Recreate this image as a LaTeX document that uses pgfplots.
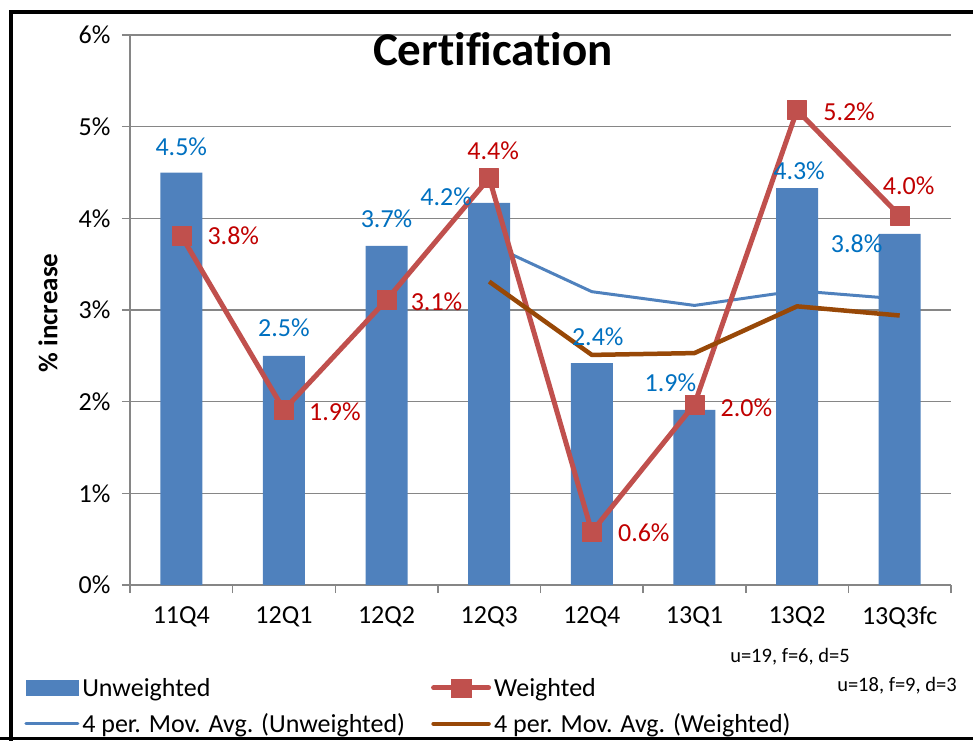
\documentclass[border=0pt]{standalone}
\usepackage{pgfplots}
\pgfplotsset{compat=1.18}
\usepackage{pgfplotstable}
\usepackage{fontspec}
\setmainfont{Carlito}[Ligatures=NoCommon]

\definecolor{barblue}{HTML}{4F81BD}
\definecolor{wred}{HTML}{C0504D}
\definecolor{lblblue}{HTML}{0070C0}
\definecolor{lblred}{HTML}{C00000}
\definecolor{mabrown}{HTML}{984807}
\definecolor{gridgray}{HTML}{868686}

% quarterly increase: unweighted (u) and weighted (w), with label offsets
\pgfplotstableread{
x u    udx udy w    wdx wdy
0 4.50   0  26 3.81  52   0
1 2.50   0  28 1.91  51  -2
2 3.70   0  27 3.11  50  -2
3 4.17 -43   6 4.44   4  27
4 2.42   6  26 0.58  52  -1
5 1.91 -24  27 1.97  52  -3
6 4.33   2  17 5.18  52  -2
7 3.83 -43 -10 4.03   9  30
}\quarters

% 4-period moving averages
\pgfplotstableread{
x mu   mw
3 3.72 3.31
4 3.20 2.51
5 3.05 2.53
6 3.21 3.04
7 3.12 2.94
}\movavg

\newcommand{\labelfont}{\fontsize{26}{31}\selectfont}

\begin{document}
\begin{tikzpicture}
\useasboundingbox (0pt,0pt) rectangle (973pt,740pt);
\clip (0pt,0pt) rectangle (973pt,740pt);
\begin{axis}[
  at={(130pt,155pt)}, anchor=south west,
  scale only axis, width=821pt, height=550pt,
  xmin=-0.5, xmax=7.5, ymin=0, ymax=6,
  axis lines*=left,
  axis line style={gridgray, line width=1.5pt, -},
  xtick={-0.5,0.5,...,7.5},
  xticklabels={11Q4,12Q1,12Q2,12Q3,12Q4,13Q1,13Q2,13Q3fc},
  x tick label as interval,
  ytick={0,...,6},
  yticklabel={\pgfmathprintnumber{\tick}\%},
  tick align=outside, major tick length=8pt,
  tick style={gridgray, line width=1.5pt},
  ymajorgrids, grid style={gridgray, line width=1.5pt},
  tick label style={font=\labelfont},
  xticklabel style={yshift=-10pt},
  yticklabel style={xshift=-8pt},
  /pgf/number format/assume math mode=true,
  clip=false,
  legend columns=2,
  legend style={at={(-0.129,-0.165)}, anchor=north west, draw=none, fill=none,
    inner sep=0pt, font=\labelfont, row sep=12pt,
    nodes={inner sep=2pt},
    /tikz/every odd column/.append style={column sep=1pt},
    /tikz/every even column/.append style={column sep=24pt}},
  legend cell align=left,
]
% legend
\addlegendimage{legend image code/.code={\fill[barblue] (0pt,-7.5pt) rectangle (52pt,7.5pt);}}
\addlegendentry{Unweighted}
\addlegendimage{legend image code/.code={\draw[wred,line width=5pt,line cap=round] (0pt,0pt)--(55pt,0pt); \fill[wred] (17.5pt,-9pt) rectangle (37.5pt,9pt);}}
\addlegendentry{Weighted}
\addlegendimage{legend image code/.code={\draw[barblue,line width=3pt,line cap=round] (0pt,0pt)--(52pt,0pt);}}
\addlegendentry{4 per. Mov. Avg. (Unweighted)}
\addlegendimage{legend image code/.code={\draw[mabrown,line width=4.5pt,line cap=round] (0pt,0pt)--(55pt,0pt);}}
\addlegendentry{4 per. Mov. Avg. (Weighted)}

% moving average of the unweighted series, behind the bars
\addplot[barblue, line width=3pt, line join=round, forget plot]
  table[x=x, y=mu]{\movavg};

% unweighted bars
\addplot[ybar, bar width=42pt, bar shift=0pt, fill=barblue, draw=none, forget plot,
  point meta=\thisrow{u},
  visualization depends on={\thisrow{udx} \as \ldx},
  visualization depends on={\thisrow{udy} \as \ldy},
  nodes near coords={\pgfmathprintnumber[fixed,fixed zerofill,precision=1]{\pgfplotspointmeta}\%},
  every node near coord/.append style={anchor=center, font=\labelfont, text=lblblue,
    xshift=\ldx pt, yshift=\ldy pt}]
  table[x=x, y=u]{\quarters};

% weighted series
\addplot[wred, line width=5pt, line join=round, forget plot,
  mark=square*, mark size=9.5pt, mark options={fill=wred, draw=wred, line width=0.5pt},
  point meta=\thisrow{w},
  visualization depends on={\thisrow{wdx} \as \ldx},
  visualization depends on={\thisrow{wdy} \as \ldy},
  nodes near coords={\pgfmathprintnumber[fixed,fixed zerofill,precision=1]{\pgfplotspointmeta}\%},
  every node near coord/.append style={anchor=center, font=\labelfont, text=lblred,
    xshift=\ldx pt, yshift=\ldy pt}]
  table[x=x, y=w]{\quarters};

% moving average of the weighted series
\addplot[mabrown, line width=4.5pt, line join=round, forget plot]
  table[x=x, y=mw]{\movavg};
\end{axis}

\node[font=\bfseries\fontsize{47}{56}\selectfont, anchor=base] at (493pt,674pt) {Certification};
\node[font=\bfseries\fontsize{27}{32}\selectfont, rotate=90] at (48pt,427pt) {\% increase};
\node[font=\fontsize{20.5}{24}\selectfont] at (790pt,83pt) {u=19, f=6, d=5};
\node[font=\fontsize{20.5}{24}\selectfont] at (897pt,54pt) {u=18, f=9, d=3};

% outer frame
\draw[line width=4.5pt] (11pt,-10pt) -- (11pt,728pt) -- (990pt,728pt);
\draw[line width=3pt] (0pt,2pt) -- (990pt,2pt);
\end{tikzpicture}
\end{document}
